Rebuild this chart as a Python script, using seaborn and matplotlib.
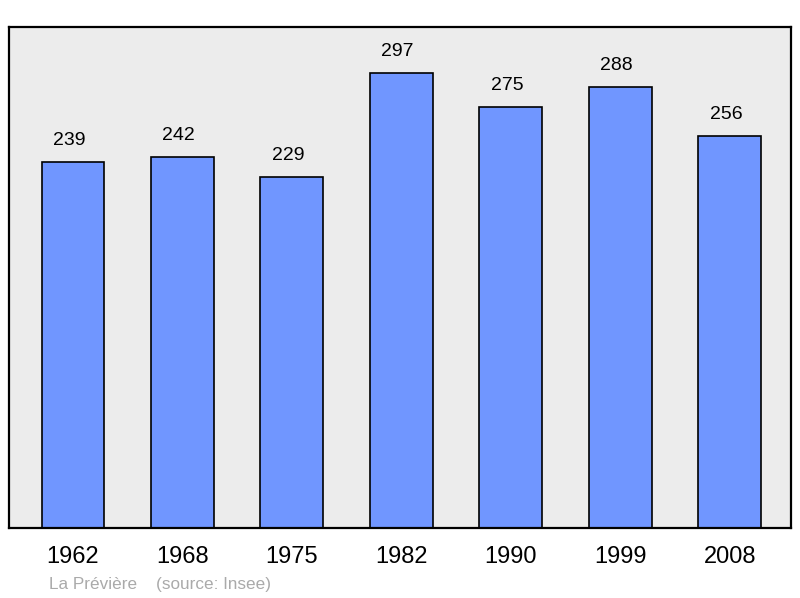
import matplotlib
matplotlib.use("Agg")
import matplotlib.pyplot as plt
import seaborn as sns

# Data
years = ["1962", "1968", "1975", "1982", "1990", "1999", "2008"]
population = [239, 242, 229, 297, 275, 288, 256]

sns.set_theme(style="white")
plt.rcParams["font.family"] = ["Liberation Sans", "DejaVu Sans"]

fig = plt.figure(figsize=(8, 5.98), dpi=100)
ax = fig.add_axes([9/800, 70/598, 782/800, 501/598])
ax.set_facecolor("#ececec")

sns.barplot(
    x=years,
    y=population,
    color="#7096ff",
    saturation=1,
    edgecolor="black",
    linewidth=1.2,
    width=0.575,
    ax=ax
)

# value labels, sitting a little left of bar centre like the original
for i, v in enumerate(population):
    ax.text(i - 0.035, v + 14, str(v), ha="center", va="center", fontsize=14, color="black")

ax.set_xlim(-0.585, 6.56)
ax.set_ylim(0, 327)
ax.set_yticks([])
ax.tick_params(axis="x", length=0, labelsize=17, pad=13, labelcolor="black")
ax.set_xlabel("")
ax.set_ylabel("")

for s in ax.spines.values():
    s.set_visible(True)
    s.set_color("black")
    s.set_linewidth(1.6)

fig.text(49/800, 1 - 584/598, "La Prévière    (source: Insee)",
         fontsize=12.3, color="#aaaaaa", ha="left", va="center")

fig.savefig("out.png", dpi=100, facecolor="white")
